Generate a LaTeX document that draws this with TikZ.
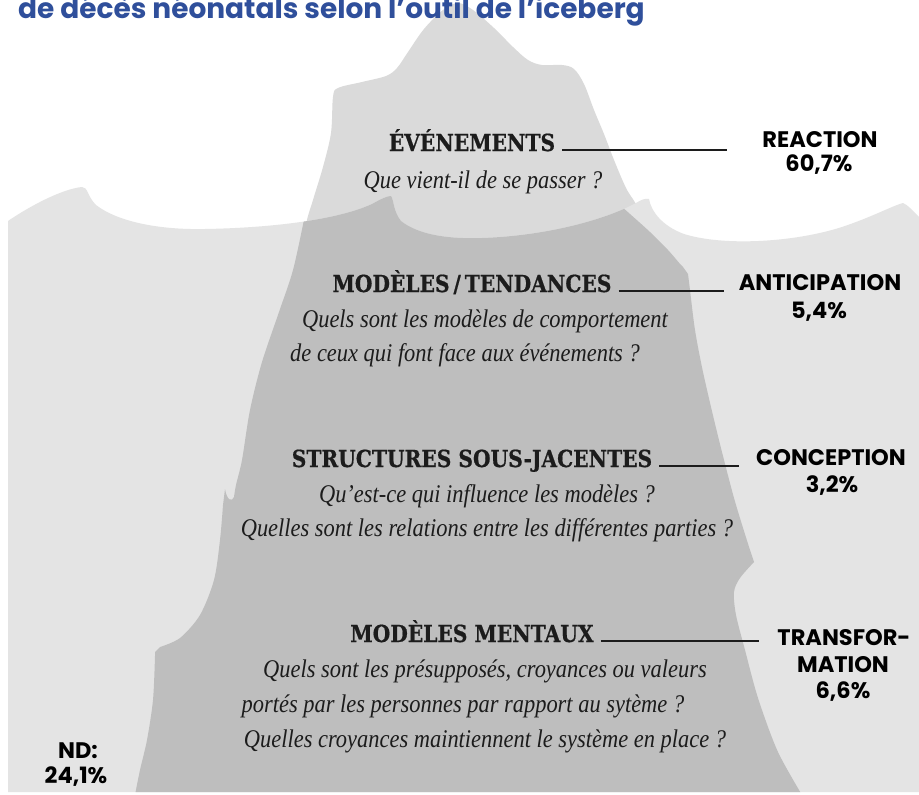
\documentclass[tikz,border=0pt]{standalone}
\usepackage{fontspec}
\newfontfamily\titlefont{Poppins}
\newfontfamily\headfont{DejaVu Serif}[FakeStretch=0.86, BoldFeatures={FakeBold=0.6}]
\newfontfamily\bodyfont{Liberation Serif}[FakeStretch=0.88]
\usetikzlibrary{calc}

\definecolor{sea}{HTML}{E4E4E4}
\definecolor{tipc}{HTML}{DADADA}
\definecolor{berg}{HTML}{BEBEBE}
\definecolor{titleblue}{HTML}{2F4F9B}
\definecolor{ink}{HTML}{1C1C1C}

% water surface with breaking waves, down to the bottom edge
\newcommand\seapath{(8,221) .. controls (30,206) and (62,189) .. (82,187)
 .. controls (88,187) and (87,196) .. (96,205)
 .. controls (118,222) and (160,230) .. (205,229)
 .. controls (265,228) and (335,221) .. (372,204)
 .. controls (381,199) and (387,196) .. (391,196)
 .. controls (394,200) and (393,211) .. (401,221)
 .. controls (420,236) and (452,239) .. (482,238)
 .. controls (545,236) and (605,220) .. (636,203)
 .. controls (641,200) and (645,198) .. (649,199)
 .. controls (651,211) and (662,226) .. (684,234)
 .. controls (722,246) and (792,243) .. (842,227)
 .. controls (872,217) and (892,206) .. (903,203)
 .. controls (908,205) and (913,211) .. (919,217)
 -- (919,792) -- (8,792) -- cycle}

\tikzset{
  heading/.style={font=\headfont\bfseries\fontsize{23.5}{27}\selectfont, text=ink, inner sep=0pt, anchor=base},
  question/.style={font=\bodyfont\itshape\fontsize{25.5}{30}\selectfont, text=ink, inner sep=0pt, anchor=base},
  tag/.style={font=\titlefont\bfseries\fontsize{22.5}{27}\selectfont, text=black, inner sep=0pt, anchor=base},
  leader/.style={line width=1.2pt, draw=ink},
}

\begin{document}
\begin{tikzpicture}[x=1pt, y=-1pt]
\useasboundingbox (0,0) rectangle (919,795);
\clip (0,0) rectangle (919,795);
\fill[white] (0,0) rectangle (919,795);

% iceberg tip above the water
\fill[tipc] plot[smooth, tension=0.55] coordinates {(303,262) (306,225) (313,200) (323,167) (331,133) (333,97) (338,88) (362,82) (386,76) (397,68) (408,52) (424,29) (443,10) (458,3) (473,10) (494,28) (513,47) (528,60) (542,65) (562,65) (574,69) (584,84) (594,110) (604,134) (614,160) (626,188) (640,214) (645,262)} -- cycle;

% sea
\fill[sea] \seapath;

% submerged part of the iceberg
\begin{scope}
\clip \seapath;
\fill[berg]
 plot[smooth, tension=0.5] coordinates {(312,180) (305,215) (293,270) (279,312) (262,362) (250,410) (242,460) (236,485) (234,497)}
 .. controls (232,502) and (227,501) .. (225,489)
 -- plot[smooth, tension=0.5] coordinates {(223,505) (220,540) (214,580) (200,615) (180,638) (160,647)}
 -- (155,652)
 -- plot[smooth, tension=0.5] coordinates {(155,656) (153,700) (147,740) (140,770) (134,800)}
 -- (805,800)
 -- plot[smooth, tension=0.5] coordinates {(805,800) (778,752) (758,698) (745,650) (736,615) (734,592) (740,578) (754,562)}
 -- plot[smooth, tension=0.5] coordinates {(750,550) (734,498) (717,432) (703,372) (695,330) (690,290) (688,274)}
 -- (683,267)
 -- plot[smooth, tension=0.5] coordinates {(680,264) (668,250) (650,232) (630,214) (612,198)}
 -- cycle;
\end{scope}

% title, cut by the top edge
\node[font=\titlefont\bfseries\fontsize{28}{32}\selectfont, text=titleblue, inner sep=0pt, anchor=base west] (title) at (18,18) {de décès néonatals selon l’outil de l’iceberg};

% levels
\node[heading] (h1) at (472,151) {ÉVÉNEMENTS};
\node[question] (q1) at (483,188) {Que vient-il de se passer ?};

\node[heading] (h2) at (472,292) {MODÈLES\,/\,TENDANCES};
\node[question] (q2a) at (485,327) {Quels sont les modèles de comportement};
\node[question] (q2b) at (465,361) {de ceux qui font face aux événements ?};

\node[heading] (h3) at (472,467) {STRUCTURES SOUS-JACENTES};
\node[question] (q3a) at (487,502) {Qu’est-ce qui influence les modèles ?};
\node[question] (q3b) at (487,536) {Quelles sont les relations entre les différentes parties ?};

\node[heading] (h4) at (472,642) {MODÈLES MENTAUX};
\node[question] (q4a) at (485,677) {Quels sont les présupposés, croyances ou valeurs};
\node[question] (q4b) at (463,712) {portés par les personnes par rapport au sytème ?};
\node[question] (q4c) at (485,747) {Quelles croyances maintiennent le système en place ?};

% response modes
\node[tag] (t1a) at (820,147) {REACTION};
\node[tag] (t1b) at (819,171) {60,7\%};
\node[tag] (t2a) at (820,290) {ANTICIPATION};
\node[tag] (t2b) at (819,318) {5,4\%};
\node[tag] (t3a) at (831,465) {CONCEPTION};
\node[tag] (t3b) at (832,492) {3,2\%};
\node[tag] (t4a) at (844,645) {TRANSFOR-};
\node[tag] (t4b) at (843,672) {MATION};
\node[tag] (t4c) at (843,698) {6,6\%};
\node[tag] (nda) at (78,758) {ND:};
\node[tag] (ndb) at (76,783) {24,1\%};

% leader lines
\coordinate (e1) at (727,150);
\coordinate (e2) at (724,291);
\coordinate (e3) at (739,466);
\coordinate (e4) at (759,641);
\draw[leader] ($(h1.base east)+(7,-1)$) -- (e1);
\draw[leader] ($(h2.base east)+(7,-1)$) -- (e2);
\draw[leader] ($(h3.base east)+(7,-1)$) -- (e3);
\draw[leader] ($(h4.base east)+(7,-1)$) -- (e4);
\end{tikzpicture}
\end{document}
